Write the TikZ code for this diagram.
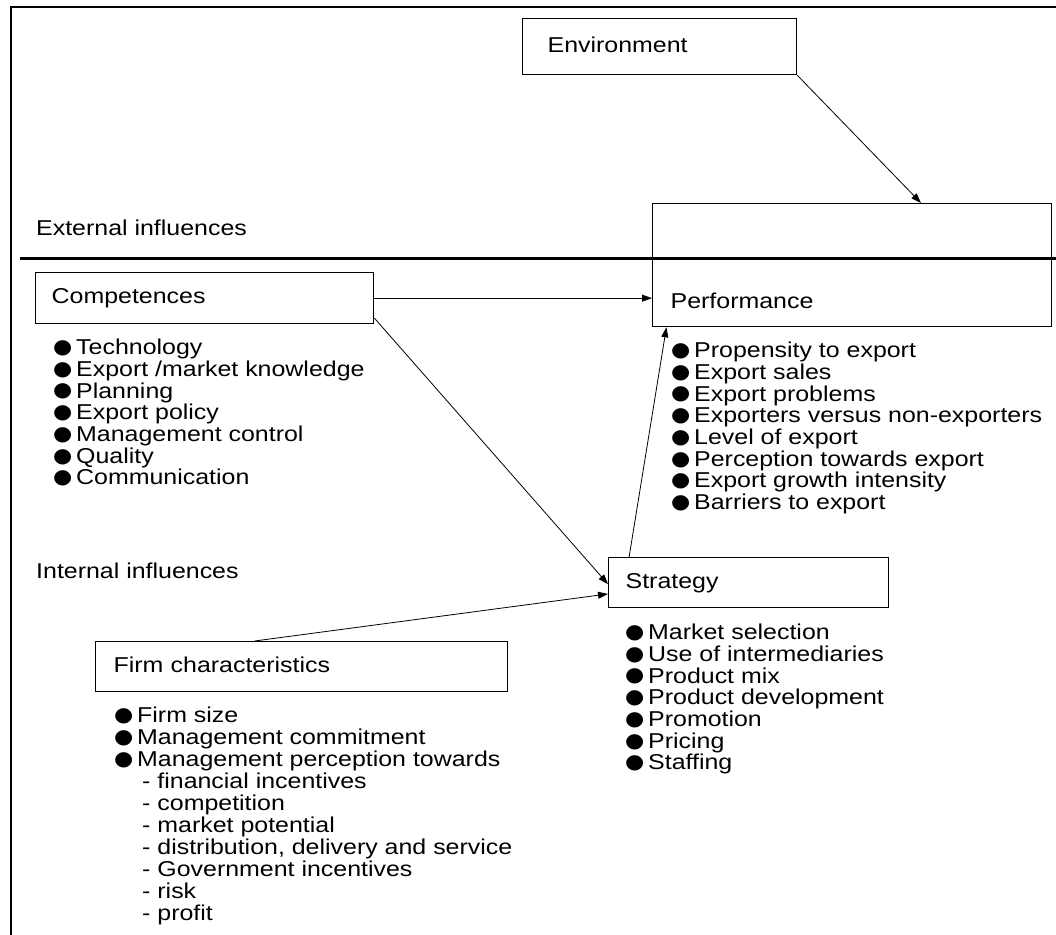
\documentclass[tikz,border=0pt]{standalone}
\usepackage{fontspec}
\setmainfont{Liberation Sans}[FakeStretch=1.16]
\newfontfamily\symfont{DejaVu Sans}[FakeStretch=1.1]
\usetikzlibrary{arrows.meta,calc}

% list markers
\newcommand\bul{\makebox[23pt][l]{\raisebox{1.2pt}{\symfont\fontsize{20}{20}\selectfont ●}}}
\newcommand\dashitem{\hspace{28pt}- }

\begin{document}
\begin{tikzpicture}[x=1pt,y=-1pt,
  every node/.style={font=\fontsize{21.5}{21.7}\selectfont},
  box/.style={draw, line width=1.3pt, anchor=north west, align=left,
    inner ysep=0pt, text height=16pt, text depth=5pt},
  lst/.style={anchor=north west, inner sep=0pt, align=left},
  lbl/.style={anchor=base west, inner sep=0pt},
  conn/.style={line width=0.8pt, -{Triangle[length=10pt,width=7pt]}}]

\useasboundingbox (0,0) rectangle (1056,934);

% outer frame (open at right and bottom)
\coordinate (frameBL) at (11,945);
\coordinate (frameTL) at (11,7);
\coordinate (frameTR) at (1065,7);
\draw[line width=2.2pt] (frameBL) -- (frameTL) -- (frameTR);

% boxes
\node[box, minimum width=274pt, minimum height=56pt, inner xsep=25pt, text width=224pt]
  (env) at (522,18) {Environment};
\node[box, minimum width=399pt, inner xsep=18pt, text width=363pt,
  inner ysep=13pt, text height=92pt, text depth=5pt]
  (perf) at (652,203) {Performance};
\node[box, minimum width=338pt, minimum height=51pt, inner xsep=16pt, text width=306pt]
  (comp) at (35,272) {Competences};
\node[box, minimum width=280pt, minimum height=50pt, inner xsep=17pt, text width=246pt]
  (strat) at (608,557) {Strategy};
\node[box, minimum width=412pt, minimum height=50pt, inner xsep=18pt, text width=376pt]
  (firm) at (95,641) {Firm characteristics};

% boundary between external and internal influences
\coordinate (sepL) at (20,258);
\coordinate (sepR) at (1065,258);
\draw[line width=3pt] (sepL) -- (sepR);

\node[lbl] (ext) at (36,235) {External influences};
\node[lbl] (int) at (36,578) {Internal influences};

% lists
\node[lst] (complist) at (53,339) {%
  \bul Technology\\
  \bul Export /market knowledge\\
  \bul Planning\\
  \bul Export policy\\
  \bul Management control\\
  \bul Quality\\
  \bul Communication};

\node[lst] (perflist) at (671,342) {%
  \bul Propensity to export\\
  \bul Export sales\\
  \bul Export problems\\
  \bul Exporters versus non-exporters\\
  \bul Level of export\\
  \bul Perception towards export\\
  \bul Export growth intensity\\
  \bul Barriers to export};

\node[lst] (stratlist) at (625,624) {%
  \bul Market selection\\
  \bul Use of intermediaries\\
  \bul Product mix\\
  \bul Product development\\
  \bul Promotion\\
  \bul Pricing\\
  \bul Staffing};

\node[lst, font=\fontsize{21.5}{22}\selectfont] (firmlist) at (114,707) {%
  \bul Firm size\\
  \bul Management commitment\\
  \bul Management perception towards\\
  \dashitem financial incentives\\
  \dashitem competition\\
  \dashitem market potential\\
  \dashitem distribution, delivery and service\\
  \dashitem Government incentives\\
  \dashitem risk\\
  \dashitem profit};

% connectors
\draw[conn] (env.south east) -- ($(perf.north west)!0.672!(perf.north east)$);
\draw[conn] (comp.east) -- (perf.west |- comp.east);
\draw[conn] ($(comp.north east)!0.88!(comp.south east)$) -- ($(strat.north west)!0.53!(strat.south west)$);
\draw[conn] ($(firm.north west)!0.386!(firm.north east)$) -- ($(strat.north west)!0.72!(strat.south west)$);
\draw[conn] ($(strat.north west)!0.075!(strat.north east)$) -- ($(perf.south west)!0.036!(perf.south east)$);
\end{tikzpicture}
\end{document}
